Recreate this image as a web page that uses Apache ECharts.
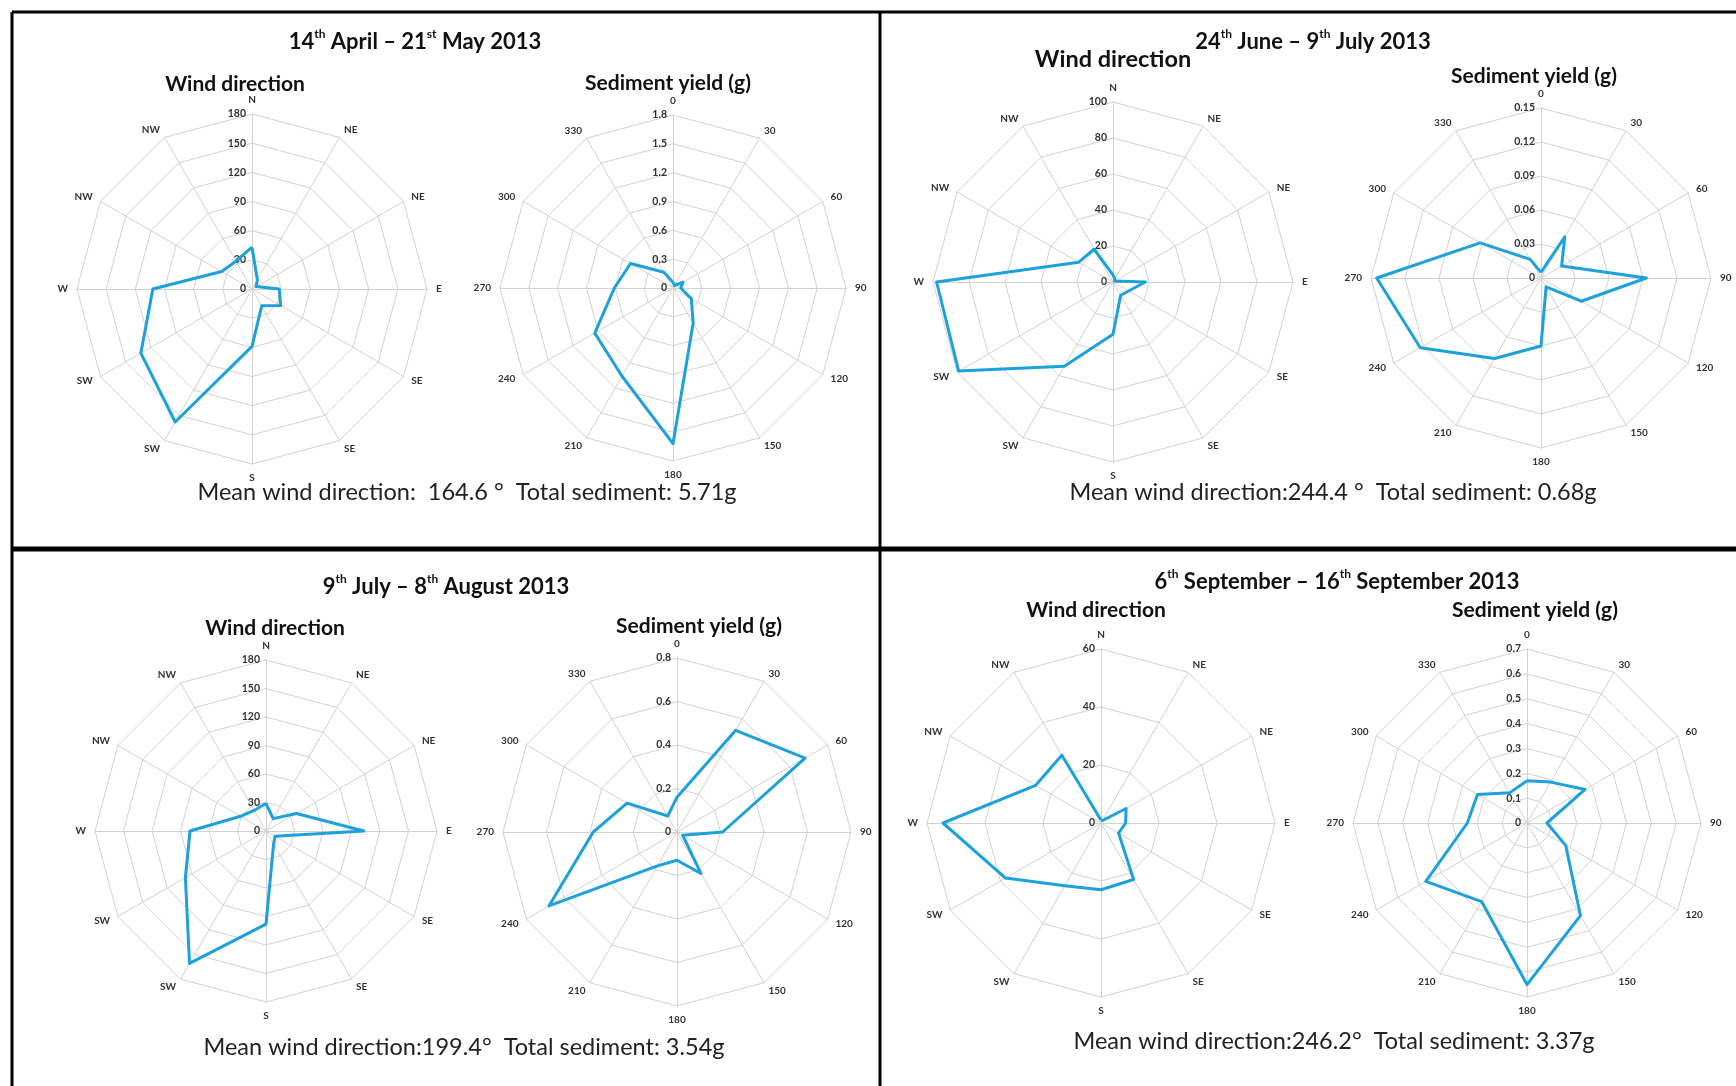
<!DOCTYPE html>
<html><head><meta charset="utf-8">
<script src="https://cdn.jsdelivr.net/npm/echarts@6/dist/echarts.min.js"></script>
<style>html,body{margin:0;padding:0;background:#fff}#c{width:1736px;height:1086px}</style>
</head><body><div id="c"></div>
<script>
// ---- data ----
const windDirs = ['N','NE','NE','E','SE','SE','S','SW','SW','W','NW','NW'];
const sedDirs = ['0','30','60','90','120','150','180','210','240','270','300','330'];

const wind1 = [43, 11, 5, 28, 34, 20, 59, 158, 132, 102, 36, 33];
const sed1  = [0.06, 0.03, 0.12, 0.08, 0.22, 0.42, 1.62, 1.06, 0.94, 0.61, 0.51, 0.19];
const wind2 = [4, 2, 1, 18, 10, 8.5, 29, 54, 99, 98, 22, 21];
const sed2  = [0.005, 0.042, 0.021, 0.093, 0.041, 0.009, 0.06, 0.082, 0.123, 0.145, 0.062, 0.019];
const wind3 = [29, 15, 37, 103, 11, 16, 98, 161, 98, 80, 31, 25];
const sed3  = [0.16, 0.54, 0.68, 0.21, 0.03, 0.22, 0.13, 0.18, 0.68, 0.385, 0.265, 0.085];
const wind4 = [1, 1, 10, 8.5, 7, 22.5, 23, 25, 38, 54.5, 26, 27];
const sed4  = [0.17, 0.19, 0.27, 0.08, 0.18, 0.43, 0.65, 0.365, 0.47, 0.24, 0.23, 0.14];

const axisMax    = [180, 1.8, 100, 0.15, 180, 0.8, 60, 0.7];
const axisSplits = [6, 6, 5, 5, 6, 4, 3, 7];

const periodTitles = [
  '{b|14}{s|th}{b| April – 21}{s|st}{b| May 2013}',
  '{b|24}{s|th}{b| June – 9}{s|th}{b| July 2013}',
  '{b|9}{s|th}{b| July – 8}{s|th}{b| August 2013}',
  '{b|6}{s|th}{b| September – 16}{s|th}{b| September 2013}'
];
const chartTitles = ['Wind direction', 'Sediment yield (g)'];
const footers = [
  'Mean wind direction:  164.6 °  Total sediment: 5.71g',
  'Mean wind direction:244.4 °  Total sediment: 0.68g',
  'Mean wind direction:199.4°  Total sediment: 3.54g',
  'Mean wind direction:246.2°  Total sediment: 3.37g'
];

// ---- layout (positions only) ----
const radarLayout = [
  {c: [252, 289], r: 175}, {c: [673, 288], r: 173},
  {c: [1113, 282], r: 180}, {c: [1541, 278], r: 170},
  {c: [266, 831], r: 171}, {c: [677, 832], r: 174},
  {c: [1101, 823], r: 174}, {c: [1527, 823], r: 174}
];
const panelText = [
  {t: [415, 42], w: [235, 84, 21], s: [668, 83], f: [467, 492]},
  {t: [1313, 42], w: [1113, 59, 23.5], s: [1534, 76], f: [1333, 492]},
  {t: [446, 587], w: [275, 628, 21], s: [699, 626], f: [464, 1047]},
  {t: [1337, 582], w: [1096, 610, 21], s: [1535, 610], f: [1334, 1041]}
];

const series = [wind1, sed1, wind2, sed2, wind3, sed3, wind4, sed4];
const ord = [0, 11, 10, 9, 8, 7, 6, 5, 4, 3, 2, 1]; // clockwise placement
const FONT = 'Lato, "Open Sans", sans-serif';
const GRID = '#d2d2d2';
const LINE = '#1DA1DC';

function fmt(v) { return String(parseFloat((+v).toFixed(3))); }

const radars = series.map((d, i) => {
  const names = i % 2 === 0 ? windDirs : sedDirs;
  return {
    center: radarLayout[i].c, radius: radarLayout[i].r,
    startAngle: 90, splitNumber: axisSplits[i], shape: 'polygon',
    indicator: ord.map((k, j) => {
      const ind = {name: names[k], min: 0, max: axisMax[i]};
      if (j === 0) ind.axisLabel = {show: true};
      return ind;
    }),
    axisName: {color: '#333', fontSize: 10, fontFamily: FONT, fontWeight: 'bold'},
    nameGap: 9,
    splitLine: {lineStyle: {color: GRID, width: 1}},
    splitArea: {show: false},
    axisLine: {lineStyle: {color: GRID, width: 1}},
    axisTick: {show: false},
    axisLabel: {show: false, color: '#333', fontSize: 10.5, fontFamily: FONT, fontWeight: 'bold', margin: 6, formatter: fmt}
  };
});

const seriesOpt = series.map((d, i) => ({
  type: 'radar', radarIndex: i, symbol: 'none', silent: true,
  lineStyle: {color: LINE, width: 3},
  data: [{value: ord.map(k => d[k])}]
}));

const richTitle = {
  b: {fontSize: 22, fontWeight: 'bold', fontFamily: FONT, fill: '#111', lineHeight: 28},
  s: {fontSize: 12, fontWeight: 'bold', fontFamily: FONT, fill: '#111', verticalAlign: 'top'}
};

const graphics = [];
// panel borders
[[12, 12, 1736, 12, 3], [12, 12, 12, 1086, 3], [880, 12, 880, 1086, 3], [12, 549, 1736, 549, 5]]
  .forEach(l => graphics.push({type: 'line', shape: {x1: l[0], y1: l[1], x2: l[2], y2: l[3]}, style: {stroke: '#000', lineWidth: l[4]}, z: 10}));

panelText.forEach((p, i) => {
  graphics.push({type: 'text', x: p.t[0], y: p.t[1], style: {text: periodTitles[i], rich: richTitle, align: 'center', verticalAlign: 'middle'}});
  graphics.push({type: 'text', x: p.w[0], y: p.w[1], style: {text: chartTitles[0], fontSize: p.w[2], fontWeight: 'bold', fontFamily: FONT, fill: '#111', align: 'center', verticalAlign: 'middle'}});
  graphics.push({type: 'text', x: p.s[0], y: p.s[1], style: {text: chartTitles[1], fontSize: 21, fontWeight: 'bold', fontFamily: FONT, fill: '#111', align: 'center', verticalAlign: 'middle'}});
  graphics.push({type: 'text', x: p.f[0], y: p.f[1], style: {text: footers[i], fontSize: 23.5, fontFamily: FONT, fill: '#222', align: 'center', verticalAlign: 'middle'}});
});

const chart = echarts.init(document.getElementById('c'), null, {renderer: 'canvas'});
chart.setOption({
  backgroundColor: '#fff',
  animation: false,
  radar: radars,
  series: seriesOpt,
  graphic: graphics
});
</script>
</body></html>
